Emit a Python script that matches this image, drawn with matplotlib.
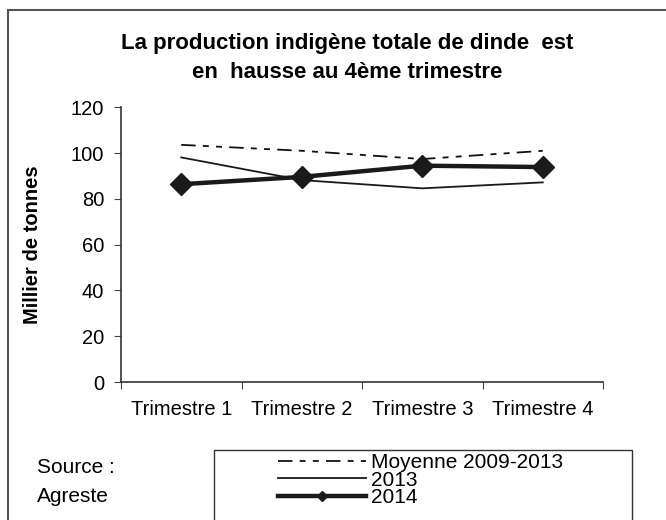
import matplotlib.pyplot as plt
from matplotlib.patches import Rectangle

plt.rcParams['font.family'] = ['Liberation Sans', 'DejaVu Sans']

categories = ["Trimestre 1", "Trimestre 2", "Trimestre 3", "Trimestre 4"]
moyenne = [103.6, 101.0, 97.4, 101.0]
prod_2013 = [98.1, 88.2, 84.6, 87.2]
prod_2014 = [86.4, 89.6, 94.5, 93.9]
yticks = [0, 20, 40, 60, 80, 100, 120]

fig = plt.figure(figsize=(6.66, 5.2), dpi=100)
ax = fig.add_axes([121 / 666, 1 - 382 / 520, 482 / 666, 274.7 / 520])

x = range(len(categories))
l1, = ax.plot(x, moyenne, color="#111111", lw=1.3, dashes=(8, 4, 3.3, 4, 3.3, 4))
l2, = ax.plot(x, prod_2013, color="#1a1a1a", lw=1.3)
l3, = ax.plot(x, prod_2014, color="#1a1a1a", lw=3.2, marker="D",
              markersize=11)

ax.set_xlim(-0.5, 3.5)
ax.set_ylim(0, 120)
ax.set_yticks(yticks)
ax.set_xticks([-0.5, 0.5, 1.5, 2.5, 3.5])
ax.set_xticklabels([])
ax.set_xticks(list(x), minor=True)
ax.set_xticklabels(categories, minor=True)
ax.tick_params(axis="x", which="minor", length=0, pad=13, labelsize=14.5)
ax.tick_params(axis="x", which="major", direction="out", length=5,
               color="#444444")
ax.tick_params(axis="y", direction="out", length=5, labelsize=14.5,
               color="#444444", pad=7)
ax.spines["top"].set_visible(False)
ax.spines["right"].set_visible(False)
for s in ("left", "bottom"):
    ax.spines[s].set_color("#333333")
    ax.spines[s].set_linewidth(1.2)
ax.set_ylabel("Millier de tonnes", fontsize=14.5, fontweight="bold", labelpad=21)

fig.text(347 / 666, 0.889, "La production indigène totale de dinde  est\nen  hausse au 4ème trimestre",
         ha="center", va="center", fontsize=16, fontweight="bold",
         linespacing=1.5)

fig.text(37 / 666, 1 - 482 / 520, "Source :\nAgreste", ha="left", va="center",
         fontsize=15, linespacing=1.62)

# outer frame (bottom and right run past the image)
fig.patches.append(Rectangle((8 / 666, -0.05), 1.0, 1.05 - 10 / 520,
                             transform=fig.transFigure, fill=False,
                             edgecolor="#555555", lw=1.5))
# legend frame
fig.patches.append(Rectangle((214 / 666, -0.05), (632 - 214) / 666,
                             1 - 450 / 520 + 0.05,
                             transform=fig.transFigure, fill=False,
                             edgecolor="#333333", lw=1.0))

leg = fig.legend([l1, l2, l3], ["Moyenne 2009-2013", "2013", "2014"],
                 loc="upper left", bbox_to_anchor=(278 / 666, 1 - 453 / 520),
                 frameon=False, fontsize=15, handlelength=4.2,
                 handletextpad=0.25, labelspacing=-0.07, borderpad=0,
                 borderaxespad=0, markerscale=0.5)

fig.savefig("out.png", dpi=100)
